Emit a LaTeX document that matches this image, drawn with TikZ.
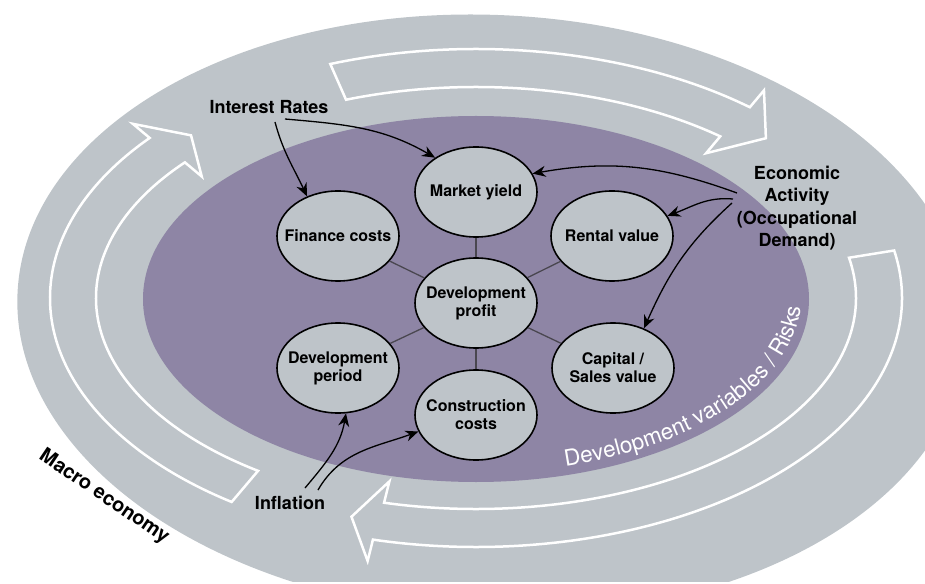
\documentclass[tikz,border=0pt]{standalone}
\usepackage{fontspec}
\setmainfont{TeX Gyre Heros}
\usetikzlibrary{arrows.meta,shapes.geometric,decorations.text}

\definecolor{ringgray}{HTML}{BEC4C9}
\definecolor{riskpurple}{HTML}{8E85A5}
\definecolor{spokegray}{HTML}{4A4750}

\begin{document}
\begin{tikzpicture}[x=1pt, y=1pt, > = {Stealth[length=13pt,width=11pt]},
        var/.style={ellipse, draw=black, line width=1.6pt, fill=ringgray,
            minimum width=122pt, minimum height=90pt, inner xsep=-15pt, inner ysep=0pt,
            align=center, font=\bfseries\fontsize{16}{18}\selectfont},
        driver/.style={align=center, font=\bfseries\fontsize{18}{22.5}\selectfont},
        band/.style={draw=white, line width=2.5pt, line join=miter},
        spoke/.style={draw=spokegray, line width=1.3pt},
        cause/.style={->, line width=1.3pt}]
            \useasboundingbox (-476,-285) rectangle (449,298);
            \clip (-463,-283) rectangle (449,298);
            % rings
            \fill[ringgray, rotate around={-2.7:(16,-17)}] (16,-17) ellipse [x radius=475pt, y radius=300pt];
            \foreach \a/\b/\c in {110/50/44, 11/-104/-108, 235/140/135}
                \draw[band] (\a:426pt and 249pt)
                    arc[start angle=\a, end angle=\b, x radius=426pt, y radius=249pt]
                    -- (\b:448pt and 271pt) -- (\c:403pt and 230pt) -- (\b:358pt and 189pt)
                    -- (\b:380pt and 211pt)
                    arc[start angle=\b, end angle=\a, x radius=380pt, y radius=211pt] -- cycle;
            \fill[riskpurple] (0,-1) ellipse [x radius=333pt, y radius=183pt];
            \path[decorate, decoration={text along path, text align=left,
                text={|\color{white}\fontsize{22.5}{24}\selectfont|Development variables / Risks}}]
                (-74:325pt and 175pt) arc[start angle=-74, end angle=14, x radius=325pt, y radius=175pt];
            \node[rotate=-34, font=\bfseries\fontsize{20}{22}\selectfont] (macro) at (-372,-199) {Macro economy};
            % variables
            \node[var] (dp) at (0,-5) {Development\\profit};
            \node[var] (my) at (0,106) {Market yield};
            \node[var] (fc) at (-138,62) {Finance costs};
            \node[var] (rv) at (136,62) {Rental value};
            \node[var] (dper) at (-138,-70) {Development\\period};
            \node[var] (csv) at (137,-70) {Capital /\\Sales value};
            \node[var] (cc) at (0,-117) {Construction\\costs};
            \foreach \n in {my,fc,rv,dper,csv,cc}
                \draw[spoke] (dp) -- (\n);
            % drivers
            \node[driver] (ir) at (-207,191) {Interest Rates};
            \node[driver] (ea) at (321,90) {Economic\\Activity\\(Occupational\\Demand)};
            \node[driver] (inf) at (-186,-205) {Inflation};
            \coordinate (ir-a) at (-201,176);
            \coordinate (ir-b) at (-191,179);
            \coordinate (ea-a) at (261,105);
            \coordinate (ea-b) at (257,99);
            \coordinate (ea-c) at (256,95);
            \coordinate (inf-a) at (-171,-190);
            \coordinate (inf-b) at (-158,-192);
            \draw[cause] (ir-a) to[out=-75, in=115] (fc.128);
            \draw[cause] (ir-b) to[out=-5, in=150] (my.140);
            \draw[cause] (ea-a) to[out=160, in=10] (my.18);
            \draw[cause] (ea-b) to[out=175, in=20] (rv.20);
            \draw[cause] (ea-c) to[out=222, in=66] (csv.52);
            \draw[cause] (inf-a) to[out=50, in=-100] (dper.-80);
            \draw[cause] (inf-b) to[out=60, in=200] (cc.196);
        \end{tikzpicture}
\end{document}
